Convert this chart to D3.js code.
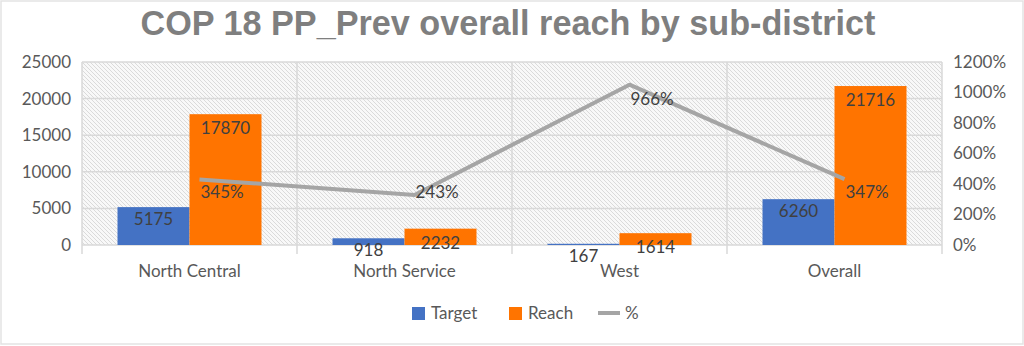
<!DOCTYPE html>
<html><head><meta charset="utf-8">
<script src="https://cdn.jsdelivr.net/npm/d3@7"></script>
<style>body{margin:0;background:#fff}svg{display:block;font-family:Lato,"Open Sans",sans-serif}
.title{font-family:"Liberation Sans Narrow","Liberation Sans",Arial,sans-serif;font-weight:bold}</style>
</head><body><svg id="c" width="1024" height="346"></svg>
<script>
const categories = ["North Central","North Service","West","Overall"];
const target = [5175, 918, 167, 6260];
const reach = [17870, 2232, 1614, 21716];
const pct = [345, 243, 966, 347];
const leftTicks = [0,5000,10000,15000,20000,25000];
const rightTicks = [0,200,400,600,800,1000,1200];
const title = "COP 18 PP_Prev overall reach by sub-district";

const svg = d3.select("#c");
const W=1024,H=346;
const L=82,R=942,T=62,B=245;
const pctLabelDy = [13,-3,14,13];

svg.append("rect").attr("x",1).attr("y",1).attr("width",W-2).attr("height",H-3)
  .attr("fill","#fff").attr("stroke","#e3e3e3").attr("stroke-width",1.5);

const defs = svg.append("defs");
const pat = defs.append("pattern").attr("id","hatch").attr("patternUnits","userSpaceOnUse")
  .attr("width",4).attr("height",4);
pat.append("rect").attr("width",4).attr("height",4).attr("fill","#f8f8f8");
pat.append("path").attr("d","M-1,-1 L5,5 M-1,3 L1,5 M3,-1 L5,1").attr("stroke","#dadada").attr("stroke-width",1);

const x = d3.scaleBand().domain(categories).range([L,R]);
const xs = d3.scaleBand().domain(["t","r"]).range([0,144]);
const y = d3.scaleLinear().domain([0,25000]).range([B,T]);
const yR = d3.scaleLinear().domain([0,1200]).range([B,T]);
const yLine = d3.scaleLinear().domain([0,1200]).range([B-13,T-13]);

svg.append("rect").attr("x",L).attr("y",T).attr("width",R-L).attr("height",B-T).attr("fill","url(#hatch)");

// horizontal grid
svg.append("g").selectAll("line").data(leftTicks).join("line")
  .attr("x1",L).attr("x2",R).attr("y1",d=>y(d)).attr("y2",d=>y(d))
  .attr("stroke","#d9d9d9").attr("stroke-width",1.5);
// vertical grid / category ticks
const bounds = categories.map(c=>x(c)).concat([R]);
svg.append("g").selectAll("line").data(bounds).join("line")
  .attr("x1",d=>d).attr("x2",d=>d).attr("y1",T).attr("y2",B+9)
  .attr("stroke","#d9d9d9").attr("stroke-width",1.5);

// left axis labels
svg.append("g").selectAll("text").data(leftTicks).join("text")
  .attr("x",71).attr("y",d=>y(d)).attr("dy","0.35em").attr("text-anchor","end")
  .attr("font-size",17).attr("fill","#595959").text(d=>d);
// right axis labels
svg.append("g").selectAll("text").data(rightTicks).join("text")
  .attr("x",953).attr("y",d=>yR(d)).attr("dy","0.35em").attr("text-anchor","start")
  .attr("font-size",17).attr("fill","#595959").text(d=>d+"%");

// bars
const cx = c => x(c) + x.bandwidth()/2 - 72;
svg.append("g").selectAll("rect").data(categories).join("rect")
  .attr("x",c=>cx(c)+xs("t")).attr("width",xs.bandwidth())
  .attr("y",(c,i)=>y(target[i])).attr("height",(c,i)=>y(0)-y(target[i])).attr("fill","#4472c4");
svg.append("g").selectAll("rect").data(categories).join("rect")
  .attr("x",c=>cx(c)+xs("r")).attr("width",xs.bandwidth())
  .attr("y",(c,i)=>y(reach[i])).attr("height",(c,i)=>y(0)-y(reach[i])).attr("fill","#ff7400");

// bar labels
svg.append("g").selectAll("text").data(categories).join("text")
  .attr("x",c=>cx(c)+xs("t")+xs.bandwidth()/2).attr("y",(c,i)=>y(target[i])+12).attr("dy","0.35em")
  .attr("text-anchor","middle").attr("font-size",17).attr("fill","#404040").text((c,i)=>target[i]);
svg.append("g").selectAll("text").data(categories).join("text")
  .attr("x",c=>cx(c)+xs("r")+xs.bandwidth()/2).attr("y",(c,i)=>y(reach[i])+14).attr("dy","0.35em")
  .attr("text-anchor","middle").attr("font-size",17).attr("fill","#404040").text((c,i)=>reach[i]);

// line
const px = c => x(c)+x.bandwidth()/2+10;
const line = d3.line().x(d=>px(d.c)).y(d=>yLine(d.v));
const ld = categories.map((c,i)=>({c,v:pct[i],dy:pctLabelDy[i]}));
svg.append("path").datum(ld).attr("d",line).attr("fill","none")
  .attr("stroke","#a5a5a5").attr("stroke-width",4).attr("stroke-linejoin","round");
svg.append("g").selectAll("text").data(ld).join("text")
  .attr("x",d=>px(d.c)+1).attr("y",d=>yLine(d.v)+d.dy).attr("dy","0.35em")
  .attr("font-size",17).attr("fill","#404040").text(d=>d.v+"%");

// category labels
svg.append("g").selectAll("text").data(categories).join("text")
  .attr("x",c=>x(c)+x.bandwidth()/2).attr("y",271).attr("dy","0.35em").attr("text-anchor","middle")
  .attr("font-size",17).attr("fill","#595959").text(c=>c);

// title
svg.append("text").attr("class","title").attr("x",W/2-4).attr("y",35).attr("text-anchor","middle")
  .attr("font-size",35).attr("fill","#7f7f7f")
  .attr("textLength",735).attr("lengthAdjust","spacingAndGlyphs").text(title);

// legend
const lg = svg.append("g").attr("font-size",17).attr("fill","#595959");
lg.append("rect").attr("x",412).attr("y",307).attr("width",13).attr("height",13).attr("fill","#4472c4");
lg.append("text").attr("x",431).attr("y",313).attr("dy","0.35em").text("Target");
lg.append("rect").attr("x",509).attr("y",307).attr("width",13).attr("height",13).attr("fill","#ff7400");
lg.append("text").attr("x",528).attr("y",313).attr("dy","0.35em").text("Reach");
lg.append("line").attr("x1",598).attr("x2",620).attr("y1",313).attr("y2",313).attr("stroke","#a5a5a5").attr("stroke-width",4);
lg.append("text").attr("x",625).attr("y",313).attr("dy","0.35em").text("%");
</script></body></html>
